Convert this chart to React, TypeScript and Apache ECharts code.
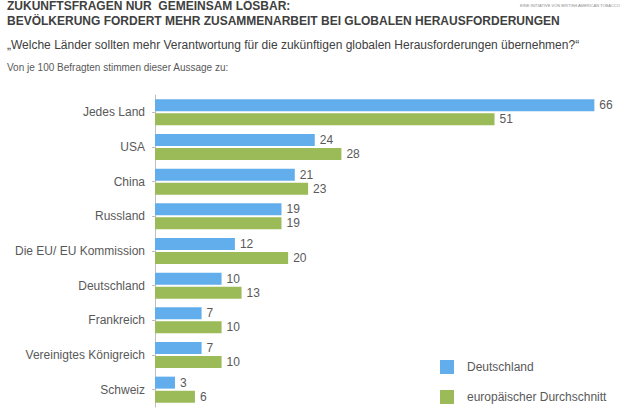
import React, { useEffect, useRef } from "react";
import * as echarts from "echarts";

const categories = [
  "Jedes Land",
  "USA",
  "China",
  "Russland",
  "Die EU/ EU Kommission",
  "Deutschland",
  "Frankreich",
  "Vereinigtes Königreich",
  "Schweiz",
];
const deutschland = [66, 24, 21, 19, 12, 10, 7, 7, 3];
const europa = [51, 28, 23, 19, 20, 13, 10, 10, 6];
const seriesNames = ["Deutschland", "europäischer Durchschnitt"];

const titleLine1 = "ZUKUNFTSFRAGEN NUR  GEMEINSAM LÖSBAR:";
const titleLine2 = "BEVÖLKERUNG FORDERT MEHR ZUSAMMENARBEIT BEI GLOBALEN HERAUSFORDERUNGEN";
const question = "„Welche Länder sollten mehr Verantwortung für die zukünftigen globalen Herausforderungen übernehmen?“";
const note = "Von je 100 Befragten stimmen dieser Aussage zu:";
const logoText = "EINE INITIATIVE VON BRITISH AMERICAN TOBACCO";

const FONT = "'Liberation Sans', Arial, sans-serif";
const BLUE = "#62AEEC";
const GREEN = "#9BBB59";
const GREY = "#595959";

export default function App() {
  const ref = useRef<HTMLDivElement>(null);
  useEffect(() => {
    if (!ref.current) return;
    const chart = echarts.init(ref.current, undefined, { renderer: "svg" });
    const label = {
      show: true,
      position: "right" as const,
      distance: 5,
      color: GREY,
      fontSize: 12,
      fontFamily: FONT,
    };
    chart.setOption({
      animation: false,
      backgroundColor: "#ffffff",
      textStyle: { fontFamily: FONT },
      grid: { left: 155, top: 95, height: 312, right: 9, containLabel: false },
      xAxis: {
        type: "value",
        min: 0,
        max: 70,
        show: false,
      },
      yAxis: {
        type: "category",
        data: categories,
        inverse: true,
        axisLine: { show: true, lineStyle: { color: "#BFBFBF", width: 1 } },
        axisTick: { show: true, alignWithLabel: true, length: 3, lineStyle: { color: "#BFBFBF" } },
        axisLabel: { color: GREY, fontSize: 12, fontFamily: FONT, margin: 10 },
        splitLine: { show: false },
      },
      legend: {
        orient: "vertical",
        left: 440,
        top: 360,
        height: 50,
        padding: 0,
        itemWidth: 14,
        itemHeight: 14,
        itemGap: 16,
        icon: "rect",
        textStyle: { color: GREY, fontSize: 12, fontFamily: FONT, padding: [0, 0, 0, 8] },
        data: seriesNames,
      },
      series: [
        {
          name: seriesNames[0],
          type: "bar",
          data: deutschland,
          barWidth: 12,
          barGap: "17%",
          itemStyle: { color: BLUE },
          label,
        },
        {
          name: seriesNames[1],
          type: "bar",
          data: europa,
          barWidth: 12,
          barGap: "17%",
          itemStyle: { color: GREEN },
          label,
        },
      ],
      graphic: [
        {
          type: "text",
          left: 7,
          top: 0,
          style: { text: titleLine1, fill: "#404040", font: `bold 12px ${FONT}` },
        },
        {
          type: "text",
          left: 7,
          top: 15,
          style: { text: titleLine2, fill: "#404040", font: `bold 12px ${FONT}` },
        },
        {
          type: "text",
          left: 7,
          top: 39,
          style: { text: question, fill: "#404040", font: `12px ${FONT}` },
        },
        {
          type: "text",
          left: 7,
          top: 62,
          style: { text: note, fill: GREY, font: `10px ${FONT}` },
        },
        {
          type: "text",
          left: 520,
          top: 3,
          style: { text: logoText, fill: "#8C8C8C", font: `4px ${FONT}` },
        },
      ],
    });
    return () => chart.dispose();
  }, []);
  return (
    <div
      ref={ref}
      style={{ position: "fixed", left: 0, top: 0, width: 630, height: 412 }}
    />
  );
}
